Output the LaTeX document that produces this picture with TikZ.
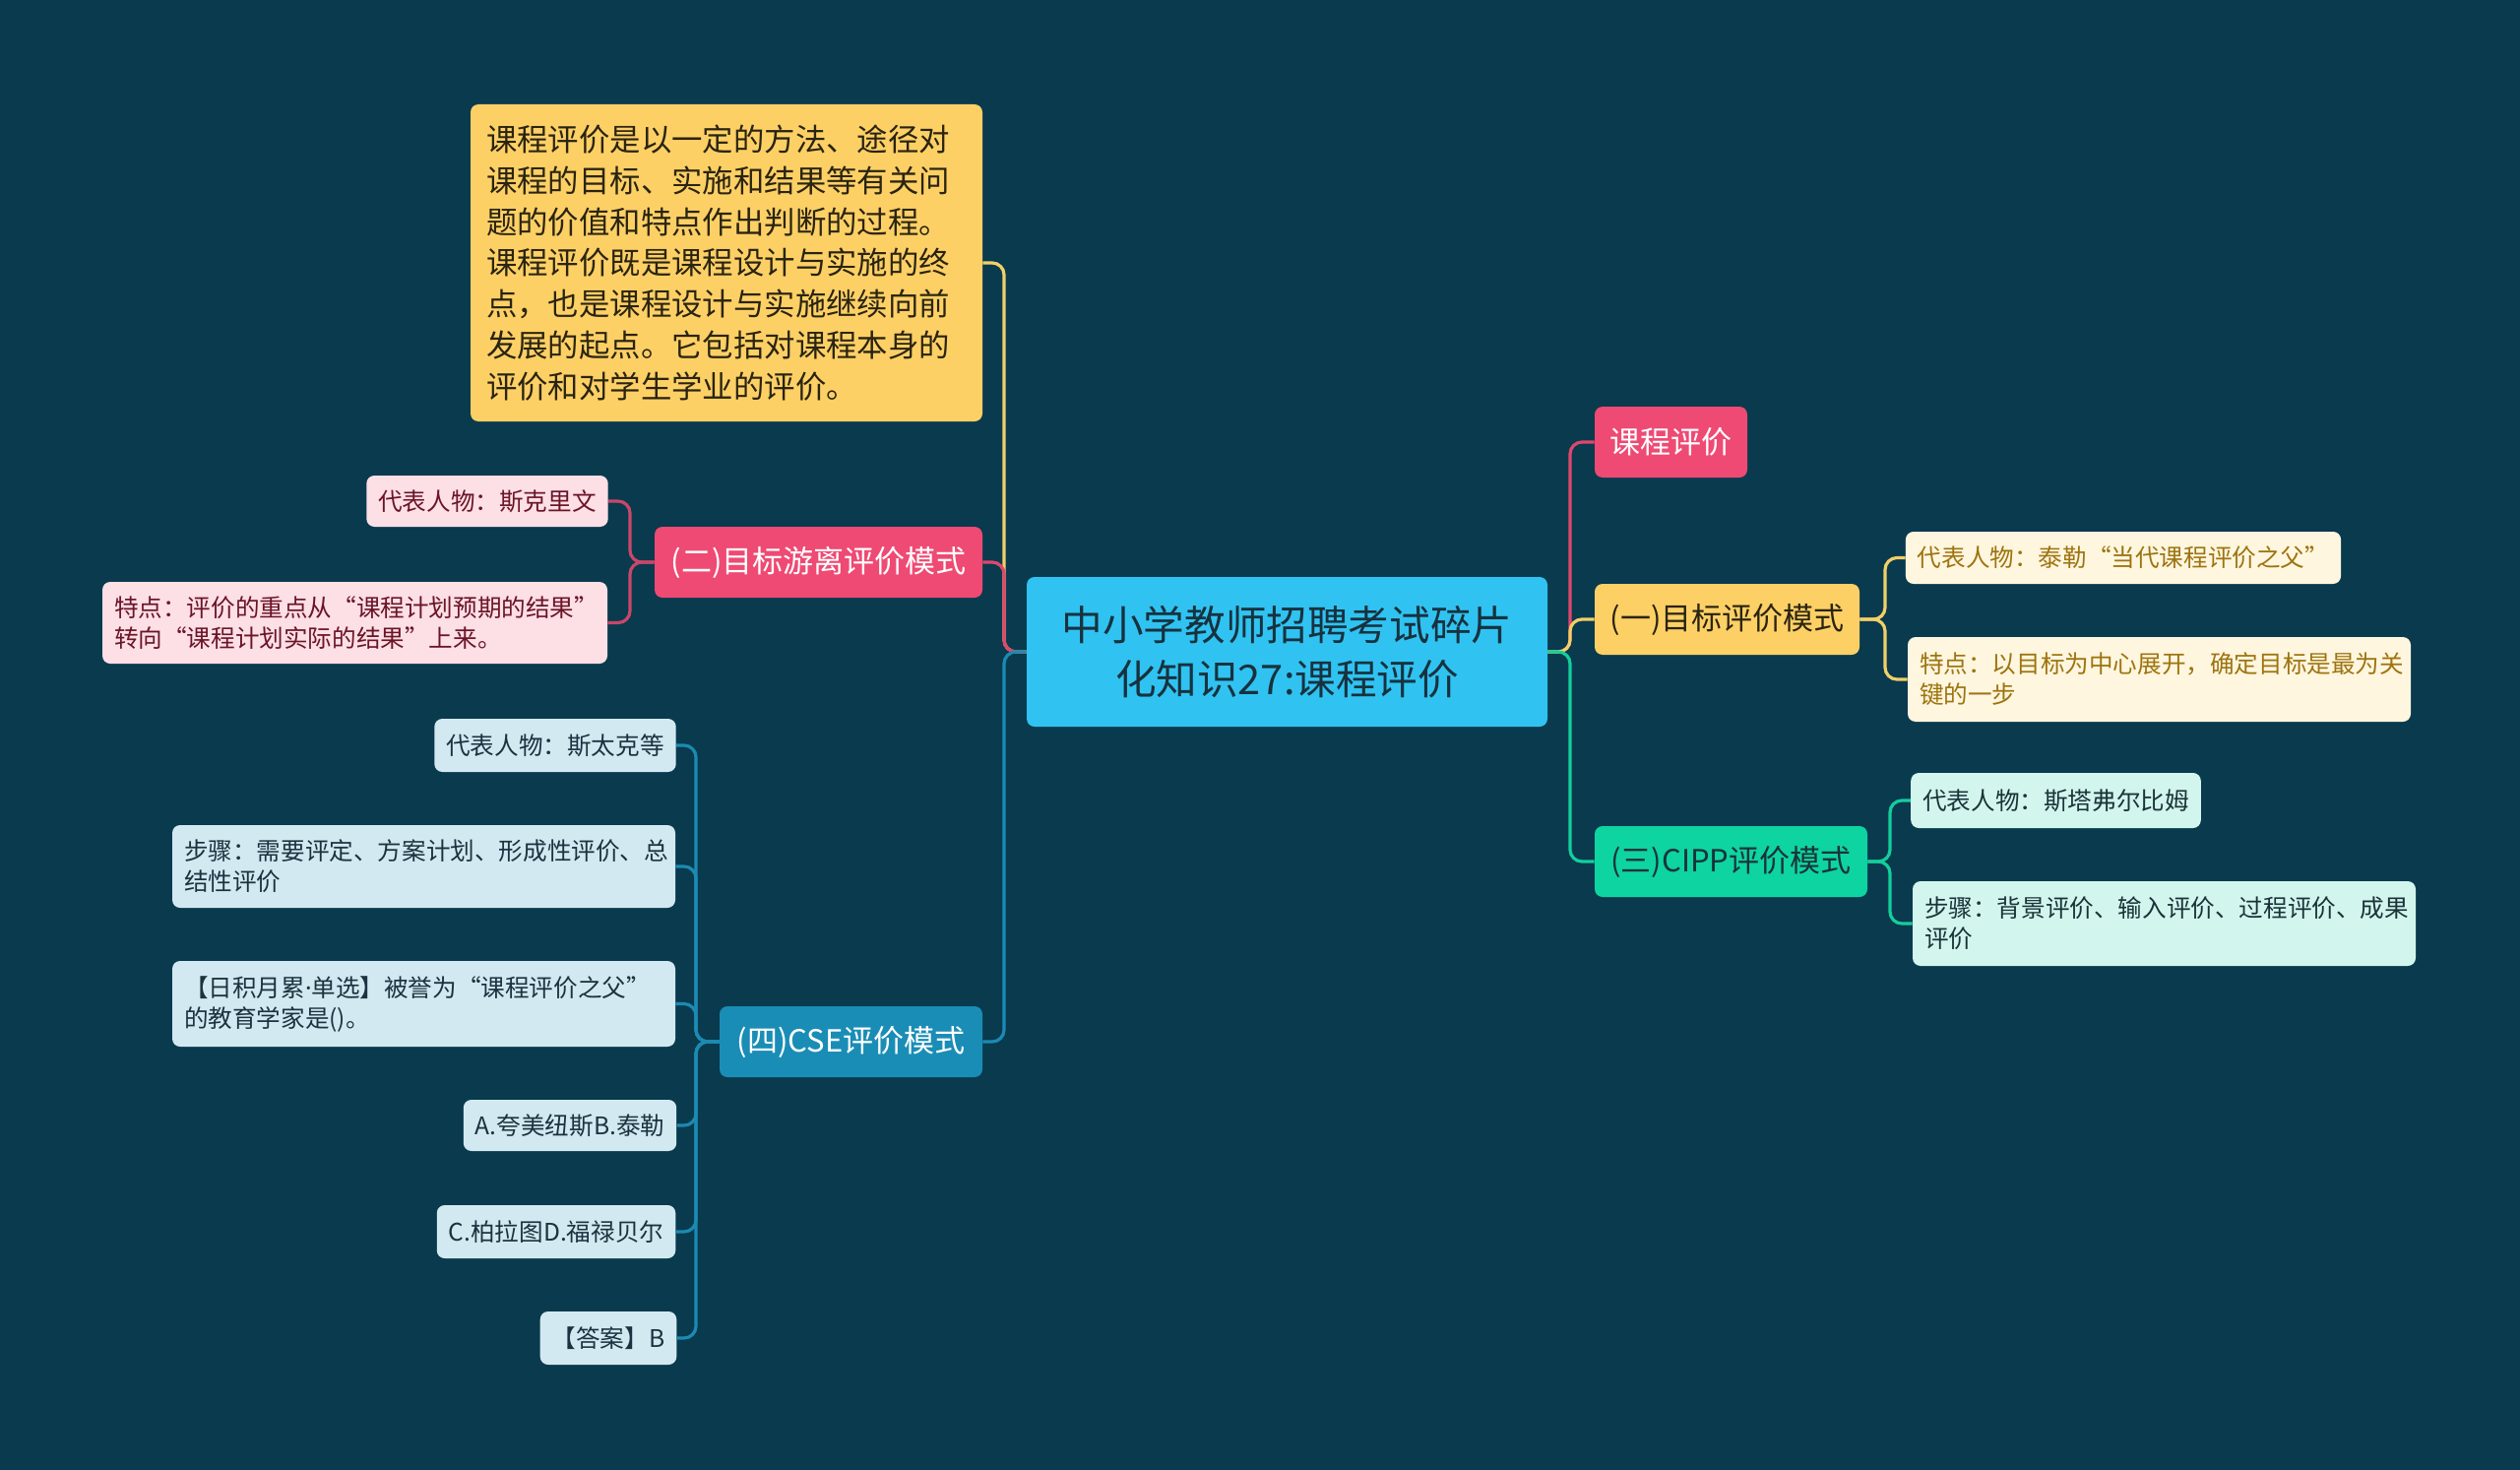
\documentclass[tikz,border=0pt]{standalone}
\usepackage{fontspec}
\setmainfont{Noto Sans CJK SC}
\newfontfamily\latinfont{Noto Sans}
\definecolor{bg}{HTML}{093A4E}
\definecolor{rootfill}{HTML}{30C3F1}
\definecolor{roottext}{HTML}{17323F}
\definecolor{pinkfill}{HTML}{EE4A74}
\definecolor{yelfill}{HTML}{FDD066}
\definecolor{tealfill}{HTML}{0DD4A0}
\definecolor{bluefill}{HTML}{1A8DB6}
\definecolor{pinklight}{HTML}{FDDFE6}
\definecolor{pinktext}{HTML}{6B1527}
\definecolor{creamlight}{HTML}{FEF6DF}
\definecolor{creamtext}{HTML}{9E7410}
\definecolor{mintlight}{HTML}{D2F6EE}
\definecolor{minttext}{HTML}{1B3338}
\definecolor{bluelight}{HTML}{D3E9F1}
\definecolor{bluetext}{HTML}{1B3340}
\definecolor{darktext}{HTML}{2A2410}
\definecolor{pinkline}{HTML}{E0476D}
\definecolor{pinkline2}{HTML}{C9476A}
\definecolor{yelline}{HTML}{F2CF68}
\definecolor{tealline}{HTML}{14CE9C}
\definecolor{blueline}{HTML}{1C8AB2}
\tikzset{
  box/.style={rounded corners=4pt, inner xsep=6pt, inner ysep=0pt, align=center},
  rootbox/.style={box, fill=rootfill, text=roottext, font=\fontsize{20.8}{27.8}\selectfont},
  midbox/.style={box, font=\fontsize{15.5}{19}\selectfont},
  leafbox/.style={box, font=\fontsize{12.3}{15.5}\selectfont},
  conn/.style={line width=1.6pt, rounded corners=6pt},
}
\begin{document}
\begin{tikzpicture}[x=0.5pt,y=-0.5pt]
\useasboundingbox (0,0) rectangle (2560,1493);
\fill[bg] (0,0) rectangle (2560,1493);

% root
\node[rootbox, minimum width=264.5pt, minimum height=76pt] (root) at (1307.5,662) {中小学教师招聘考试碎片\\化知识27:课程评价};

% right children
\node[midbox, fill=pinkfill, text=white, minimum width=77.5pt, minimum height=36pt] (n1) at (1697.5,449) {课程评价};
\node[midbox, fill=yelfill, text=darktext, minimum width=134.5pt, minimum height=36pt] (n2) at (1754.5,629) {(一)目标评价模式};
\node[midbox, fill=tealfill, text=minttext, minimum width=138.5pt, minimum height=36pt] (n3) at (1758.5,875) {(三)CIPP评价模式};

\node[leafbox, fill=creamlight, text=creamtext, minimum width=219pt, minimum height=26.5pt] (l21) at (2157,566.5) {代表人物：泰勒“当代课程评价之父”};
\node[leafbox, fill=creamlight, text=creamtext, text width=243.5pt, align=left, minimum height=43pt] (l22) at (2193.5,690) {特点：以目标为中心展开，确定目标是最为关\\键的一步};
\node[leafbox, fill=mintlight, text=minttext, minimum width=145.5pt, minimum height=28pt] (l31) at (2088.5,813) {代表人物：斯塔弗尔比姆};
\node[leafbox, fill=mintlight, text=minttext, text width=243.5pt, align=left, minimum height=43pt] (l32) at (2198.5,938) {步骤：背景评价、输入评价、过程评价、成果\\评价};

% left children
\node[box, fill=yelfill, text=darktext, font=\fontsize{15.7}{20.9}\selectfont, text width=244pt, inner xsep=8pt, align=left, minimum height=161pt] (big) at (738,267) {课程评价是以一定的方法、途径对\\课程的目标、实施和结果等有关问\\题的价值和特点作出判断的过程。\\课程评价既是课程设计与实施的终\\点，也是课程设计与实施继续向前\\发展的起点。它包括对课程本身的\\评价和对学生学业的评价。};
\node[midbox, fill=pinkfill, text=white, minimum width=166.5pt, minimum height=36pt] (m2) at (831.5,571) {(二)目标游离评价模式};
\node[midbox, fill=bluefill, text=white, minimum width=133.5pt, minimum height=36pt] (m4) at (864.5,1058) {(四)CSE评价模式};

\node[leafbox, fill=pinklight, text=pinktext, minimum width=121pt, minimum height=26pt] (k1) at (495,509) {代表人物：斯克里文};
\node[leafbox, fill=pinklight, text=pinktext, text width=244.5pt, align=left, minimum height=41.5pt] (k2) at (360.5,632.5) {特点：评价的重点从“课程计划预期的结果”\\转向“课程计划实际的结果”上来。};

\node[leafbox, fill=bluelight, text=bluetext, minimum width=122pt, minimum height=27pt] (c1) at (564,757) {代表人物：斯太克等};
\node[leafbox, fill=bluelight, text=bluetext, text width=243.5pt, align=left, minimum height=42pt] (c2) at (430.5,880) {步骤：需要评定、方案计划、形成性评价、总\\结性评价};
\node[leafbox, fill=bluelight, text=bluetext, text width=243.5pt, align=left, minimum height=43.5pt] (c3) at (430.5,1019.5) {【日积月累{\latinfont ·}单选】被誉为“课程评价之父”\\的教育学家是()。};
\node[leafbox, fill=bluelight, text=bluetext, minimum width=107pt, minimum height=26pt] (c4) at (579,1143) {A.夸美纽斯B.泰勒};
\node[leafbox, fill=bluelight, text=bluetext, minimum width=121pt, minimum height=27pt] (c5) at (565,1251) {C.柏拉图D.福禄贝尔};
\node[leafbox, fill=bluelight, text=bluetext, minimum width=68pt, minimum height=27pt] (c6) at (618,1359) {【答案】B};

% spine coordinates
\coordinate (ls) at (1020,662);
\coordinate (rs) at (1595,662);
\coordinate (s2) at (640,571);
\coordinate (s4) at (707,1058);
\coordinate (t2) at (1915,629);
\coordinate (t3) at (1920,875);

% main connectors, left
\draw[conn, yelline] (root.west) -- (ls) |- (big.east);
\draw[conn, pinkline] (root.west) -- (ls) |- (m2.east);
\draw[conn, blueline] (root.west) -- (ls) |- (m4.east);
% main connectors, right
\draw[conn, pinkline] (root.east) -- (rs) |- (n1.west);
\draw[conn, yelline] (root.east) -- (rs) |- (n2.west);
\draw[conn, tealline] (root.east) -- (rs) |- (n3.west);

% leaf connectors
\draw[conn, pinkline2] (m2.west) -- (s2) |- (k1.east);
\draw[conn, pinkline2] (m2.west) -- (s2) |- (k2.east);
\draw[conn, blueline] (m4.west) -- (s4) |- (c1.east);
\draw[conn, blueline] (m4.west) -- (s4) |- (c2.east);
\draw[conn, blueline] (m4.west) -- (s4) |- (c3.east);
\draw[conn, blueline] (m4.west) -- (s4) |- (c4.east);
\draw[conn, blueline] (m4.west) -- (s4) |- (c5.east);
\draw[conn, blueline] (m4.west) -- (s4) |- (c6.east);
\draw[conn, yelline] (n2.east) -- (t2) |- (l21.west);
\draw[conn, yelline] (n2.east) -- (t2) |- (l22.west);
\draw[conn, tealline] (n3.east) -- (t3) |- (l31.west);
\draw[conn, tealline] (n3.east) -- (t3) |- (l32.west);
\end{tikzpicture}
\end{document}
